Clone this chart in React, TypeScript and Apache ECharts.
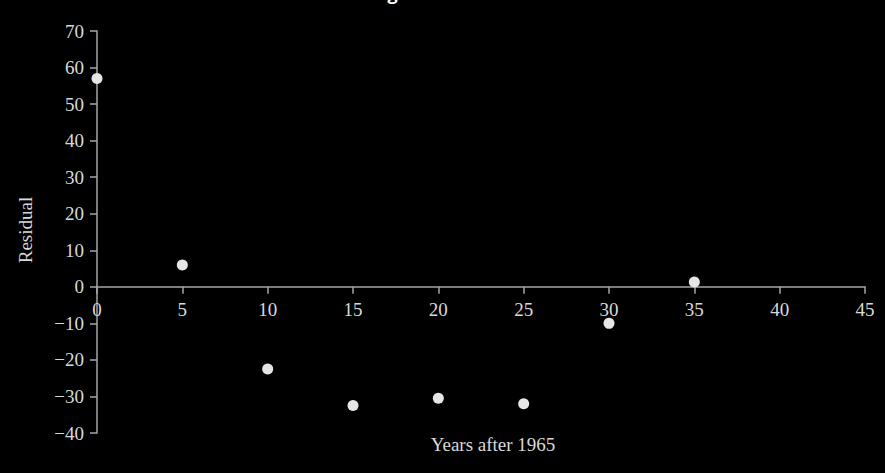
import { useEffect, useRef } from 'react'
import * as echarts from 'echarts'

// years after 1965 and residual
const years = [0, 5, 10, 15, 20, 25, 30, 35]
const residuals = [57, 6, -22.5, -32.5, -30.5, -32, -10, 1.3]

const xTicks = { min: 0, max: 45, interval: 5 }
const yTicks = { min: -40, max: 70, interval: 10 }

const serif = '"Liberation Serif", "DejaVu Serif", serif'
const textColor = '#d9d9d9'
const axisColor = '#a6a6a6'

const gridTop = 31
const gridBottom = 40
const plotHeight = 473 - gridTop - gridBottom
// x axis sits on y = 0, so shift it up from the bottom of the grid
const zeroOffset = (plotHeight * (0 - yTicks.min)) / (yTicks.max - yTicks.min)

export default function App() {
  const chartRef = useRef<HTMLDivElement>(null)

  useEffect(() => {
    if (!chartRef.current) return
    document.body.style.margin = '0'
    document.body.style.background = '#000'

    const chart = echarts.init(chartRef.current, null, { renderer: 'svg' })

    const option: echarts.EChartsOption = {
      animation: false,
      backgroundColor: '#000',
      grid: { left: 97, right: 20, top: gridTop, bottom: gridBottom },
      xAxis: {
        type: 'value',
        position: 'bottom',
        offset: -zeroOffset,
        min: xTicks.min,
        max: xTicks.max,
        interval: xTicks.interval,
        axisLine: { onZero: false, lineStyle: { color: axisColor, width: 1.5 } },
        axisTick: { show: true, inside: false, length: 7, lineStyle: { color: axisColor, width: 1.5 } },
        axisLabel: { color: textColor, fontFamily: serif, fontSize: 19, margin: 13 },
        splitLine: { show: false }
      },
      yAxis: {
        type: 'value',
        min: yTicks.min,
        max: yTicks.max,
        interval: yTicks.interval,
        axisLine: { show: true, onZero: false, lineStyle: { color: axisColor, width: 1.5 } },
        axisTick: { show: true, length: 7, lineStyle: { color: axisColor, width: 1.5 } },
        axisLabel: {
          color: textColor,
          fontFamily: serif,
          fontSize: 19,
          margin: 13,
          formatter: (v: number) => String(v).replace('-', '\u2212')
        },
        splitLine: { show: false }
      },
      graphic: [
        {
          type: 'text',
          x: 365,
          y: -16,
          style: {
            text: 'Regression Residuals',
            fill: '#fff',
            font: 'bold 18px "Open Sans", sans-serif'
          }
        },
        {
          type: 'text',
          x: 493,
          y: 444,
          style: {
            text: 'Years after 1965',
            fill: textColor,
            font: `19px ${serif}`,
            textAlign: 'center',
            textVerticalAlign: 'middle'
          }
        },
        {
          type: 'text',
          x: 25,
          y: 230,
          rotation: Math.PI / 2,
          style: {
            text: 'Residual',
            fill: textColor,
            font: `19px ${serif}`,
            textAlign: 'center',
            textVerticalAlign: 'middle'
          }
        }
      ],
      series: [
        {
          type: 'scatter',
          data: years.map((x, i) => [x, residuals[i]]),
          symbolSize: 11,
          itemStyle: { color: '#e6e6e6', opacity: 1 }
        }
      ]
    }

    chart.setOption(option)
    return () => {
      chart.dispose()
    }
  }, [])

  return <div ref={chartRef} style={{ position: 'fixed', left: 0, top: 0, width: 885, height: 473 }} />
}
